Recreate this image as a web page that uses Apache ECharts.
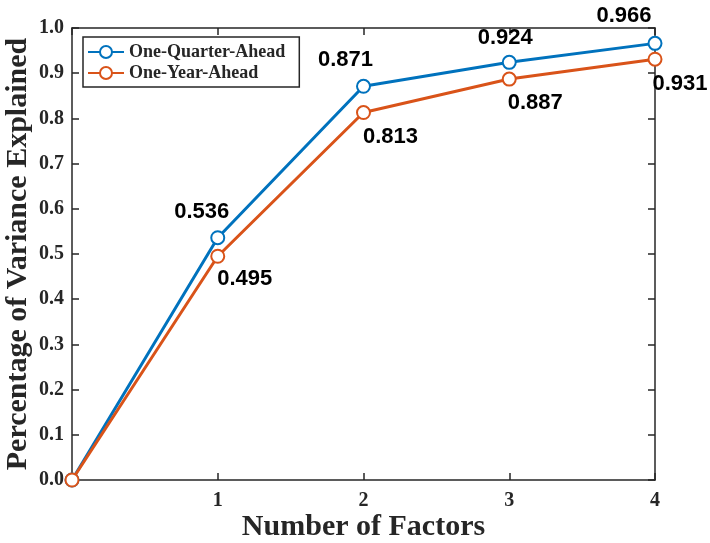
<!DOCTYPE html>
<html><head><meta charset="utf-8">
<script src="https://cdn.jsdelivr.net/npm/echarts@6/dist/echarts.min.js"></script>
<style>html,body{margin:0;padding:0;background:#fff}#c{width:710px;height:543px}</style>
</head><body><div id="c"></div>
<script>
const factors = [0, 1, 2, 3, 4];
const quarterAhead = [0, 0.536, 0.871, 0.924, 0.966];
const yearAhead = [0, 0.495, 0.813, 0.887, 0.931];
const seriesNames = ['One-Quarter-Ahead', 'One-Year-Ahead'];
const quarterLabelOffsets = [null, [-16, -26], [-18, -26], [-4, -24], [-31, -27]];
const yearLabelOffsets = [null, [27, 23], [27, 24], [26, 24], [25, 25]];

const serif = '"Liberation Serif", "Times New Roman", serif';
const sans = '"Liberation Sans", Arial, sans-serif';
const ink = '#262626';

function buildData(vals, offs) {
  return factors.map((x, i) => {
    const d = { value: [x, vals[i]] };
    if (offs[i]) {
      d.label = { show: true, position: 'inside', offset: offs[i], formatter: vals[i].toFixed(3) };
    } else {
      d.label = { show: false };
    }
    return d;
  });
}

const chart = echarts.init(document.getElementById('c'));
const axisLine = { show: true, onZero: false, lineStyle: { color: ink, width: 1.5 } };
const tick = { show: true, inside: true, length: 7, lineStyle: { color: ink, width: 1.5 } };
chart.setOption({
  animation: false,
  grid: { left: 72, right: 55, top: 28, bottom: 63, show: false, containLabel: false, outerBoundsMode: 'none' },
  legend: {
    left: 83, top: 37, orient: 'vertical', itemGap: 3,
    itemWidth: 36, itemHeight: 15,
    padding: [6, 14, 5, 4],
    borderColor: ink, borderWidth: 1.5, backgroundColor: '#fff', borderRadius: 0,
    textStyle: { fontFamily: serif, fontWeight: 'bold', fontSize: 18, color: ink },
    data: seriesNames
  },
  xAxis: [{
    type: 'value', min: 0, max: 4, interval: 1,
    axisLine: axisLine, axisTick: tick,
    axisLabel: { fontFamily: serif, fontWeight: 'bold', fontSize: 20, color: ink, margin: 11,
      formatter: v => v === 0 ? '' : String(v) },
    splitLine: { show: false },
    name: 'Number of Factors', nameLocation: 'middle', nameGap: 32, nameMoveOverlap: false,
    nameTextStyle: { fontFamily: serif, fontWeight: 'bold', fontSize: 30, color: ink }
  }, {
    type: 'value', min: 0, max: 4, interval: 1, position: 'top',
    axisLine: axisLine, axisTick: tick,
    axisLabel: { show: false }, splitLine: { show: false }
  }],
  yAxis: [{
    type: 'value', min: 0, max: 1, interval: 0.1,
    axisLine: axisLine, axisTick: tick,
    axisLabel: { fontFamily: serif, fontWeight: 'bold', fontSize: 20, color: ink, margin: 8,
      formatter: v => v.toFixed(1) },
    splitLine: { show: false },
    name: 'Percentage of Variance Explained', nameLocation: 'middle', nameGap: 39, nameMoveOverlap: false,
    nameTextStyle: { fontFamily: serif, fontWeight: 'bold', fontSize: 30, color: ink }
  }, {
    type: 'value', min: 0, max: 1, interval: 0.1, position: 'right',
    axisLine: axisLine, axisTick: tick,
    axisLabel: { show: false }, splitLine: { show: false }
  }],
  series: [{
    name: seriesNames[0], type: 'line',
    data: buildData(quarterAhead, quarterLabelOffsets),
    symbol: 'emptyCircle', symbolSize: 13, showAllSymbol: true,
    color: '#0072BD',
    lineStyle: { width: 3, color: '#0072BD' },
    itemStyle: { color: '#0072BD', borderColor: '#0072BD', borderWidth: 3 },
    label: { fontFamily: sans, fontWeight: 'bold', fontSize: 22, color: '#000' },
    z: 3
  }, {
    name: seriesNames[1], type: 'line',
    data: buildData(yearAhead, yearLabelOffsets),
    symbol: 'emptyCircle', symbolSize: 13, showAllSymbol: true,
    color: '#D95319',
    lineStyle: { width: 3, color: '#D95319' },
    itemStyle: { color: '#D95319', borderColor: '#D95319', borderWidth: 3 },
    label: { fontFamily: sans, fontWeight: 'bold', fontSize: 22, color: '#000' },
    z: 4
  }]
});
</script></body></html>
